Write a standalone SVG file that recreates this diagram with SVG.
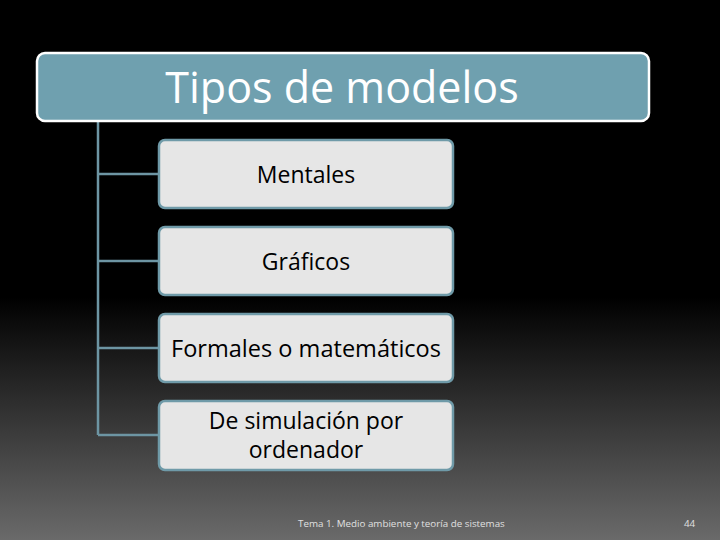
<svg xmlns="http://www.w3.org/2000/svg" width="720" height="540" viewBox="0 0 720 540">
<defs>
<linearGradient id="bg" x1="0" y1="0" x2="0" y2="1">
<stop offset="0" stop-color="#000"/>
<stop offset="0.55" stop-color="#000"/>
<stop offset="1" stop-color="#6a6a6a"/>
</linearGradient>
<style>
.box{fill:#e6e6e6;stroke:#6f9aa8;stroke-width:2.5}
.lbl{font-family:"Open Sans","Liberation Sans",sans-serif;font-size:23px;fill:#000;text-anchor:middle}
.conn{stroke:#6d95a3;stroke-width:2.5;fill:none}
.foot{font-family:"Open Sans","Liberation Sans",sans-serif;font-size:9.8px;fill:#e0e0e0}
</style>
</defs>
<rect width="720" height="540" fill="url(#bg)"/>
<g id="connectors">
<path class="conn" d="M98 121V435M98 174H159M98 261H159M98 348H159M98 435H159"/>
</g>
<g id="title">
<rect x="37" y="53" width="612" height="68" rx="8" fill="#6fa0af" stroke="#fff" stroke-width="2.5"/>
<text x="342" y="103" font-family="Open Sans,Liberation Sans,sans-serif" font-size="43" fill="#fff" text-anchor="middle">Tipos de modelos</text>
</g>
<g id="n1"><rect class="box" x="159" y="140" width="294" height="68" rx="6"/><text class="lbl" x="306" y="183">Mentales</text></g>
<g id="n2"><rect class="box" x="159" y="227" width="294" height="68" rx="6"/><text class="lbl" x="306" y="270">Gráficos</text></g>
<g id="n3"><rect class="box" x="159" y="314" width="294" height="68" rx="6"/><text class="lbl" x="306" y="357" textLength="270" lengthAdjust="spacingAndGlyphs">Formales o matemáticos</text></g>
<g id="n4"><rect class="box" x="159" y="401" width="294" height="69" rx="6"/><text class="lbl" x="306" y="429">De simulación por</text><text class="lbl" x="306" y="458">ordenador</text></g>
<text class="foot" x="298" y="527">Tema 1. Medio ambiente y teoría de sistemas</text>
<text class="foot" x="684" y="527">44</text>
</svg>
